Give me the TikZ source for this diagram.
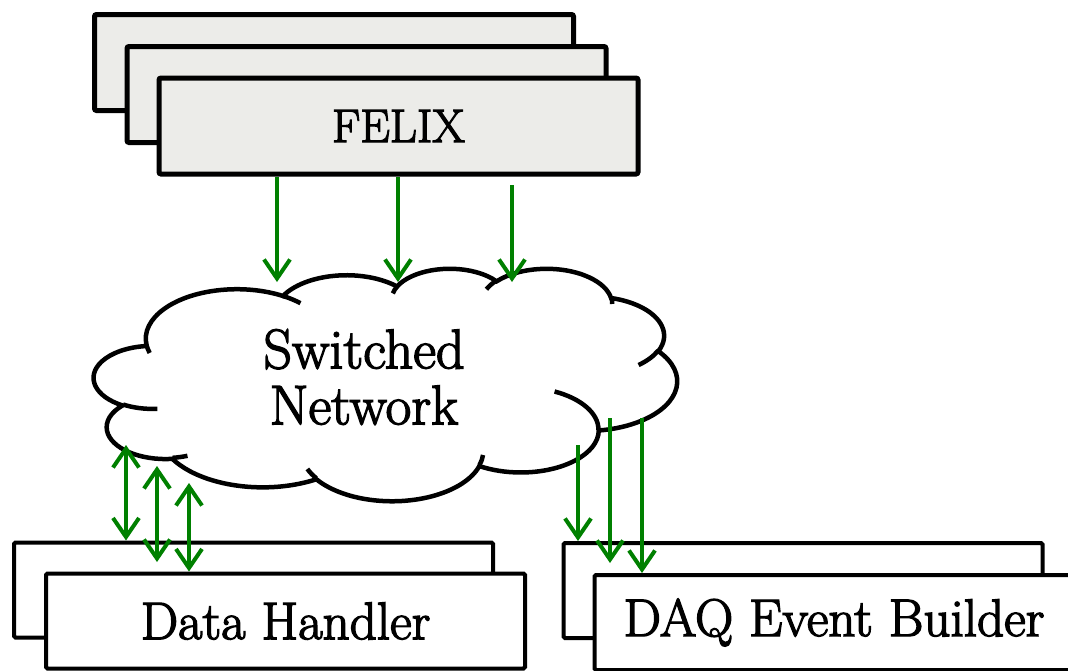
\documentclass[tikz,border=0pt]{standalone}
\usepackage{fontspec}
\setmainfont{Latin Modern Roman}[FakeBold=2.5]
\usetikzlibrary{arrows.meta}
\definecolor{flowgreen}{rgb}{0,0.5,0}
\definecolor{felixgrey}{RGB}{236,236,233}
\tikzset{
  felixbox/.style={draw, line width=5pt, fill=felixgrey, rounded corners=2pt,
    minimum width=479pt, minimum height=96pt, inner sep=0pt,
    font=\fontsize{47}{56}\selectfont},
  unitbox/.style={draw, line width=4pt, fill=white, rounded corners=1.5pt,
    minimum width=479pt, minimum height=95pt, inner sep=0pt,
    font=\fontsize{53}{60}\selectfont},
  netline/.style={line width=4.5pt},
  nettext/.style={align=center, inner sep=0pt, font=\fontsize{56}{56}\selectfont},
  flow/.style={draw=flowgreen, line width=4pt, -{Straight Barb[length=19pt,width=26pt]}},
  flowboth/.style={flow, {Straight Barb[length=19pt,width=26pt]}-{Straight Barb[length=19pt,width=26pt]}},
}
\begin{document}
\begin{tikzpicture}[x=1pt, y=-1pt]
  \useasboundingbox (0,0) rectangle (1068,670);

  % FELIX stack
  \node[felixbox] (felixC) at (334,62.5) {};
  \node[felixbox] (felixB) at (366.5,94.5) {};
  \node[felixbox] (felix) at (398.5,126) {\raisebox{-4pt}{FELIX}};

  % switched network cloud
  \begin{scope}[shift={(94,268)}, x=1.3495pt, y=-0.538pt]
    \draw[netline, fill=white] (39.00,143.70)
      \foreach \w/\h/\s/\d [evaluate=\s as \ts using {atan2(\w*sin(\s),\h*cos(\s))},
                            evaluate=\d as \te using {atan2(\w*sin(\s+\d),\h*cos(\s+\d))},
                            evaluate=\d as \dt using {mod(\te-\ts+720,360)}] in
        {67.53/91.90/-190.4875/123.7805, 53.33/72.67/-144.1024/89.9452,
         43.65/59.45/-145.8079/99.7230, 48.57/65.95/-130.9861/117.2417,
         53.33/72.73/-78.7089/109.0269, 67.75/92.20/-46.2673/130.2690,
         57.85/78.67/0.6250/114.0333, 67.52/92.15/22.4516/115.1726,
         77.20/105.43/66.2426/75.7110, 43.60/59.18/-274.9421/146.7356,
         43.45/59.45/-246.8285/152.5189}
      { arc[x radius=\w, y radius=\h, start angle=\ts, delta angle=\dt] } -- cycle;
    % inner strokes
    \draw[netline]
      \foreach \px/\py/\w/\h/\s/\d [evaluate=\s as \ts using {atan2(\w*sin(\s),\h*cos(\s))},
                                    evaluate=\d as \te using {atan2(\w*sin(\s+\d),\h*cos(\s+\d))},
                                    evaluate=\d as \dt using {mod(\te-\ts+720,360)}] in
        {46.93/261.77/43.45/59.45/86.7420/26.4295,
         69.28/348.99/43.60/59.18/73.6105/11.4475,
         164.78/390.90/67.52/92.15/137.6242/14.0811,
         288.27/347.51/67.52/92.15/6.4533/15.9984,
         341.29/229.54/57.85/78.67/-70.2924/70.9174,
         417.98/153.54/53.33/72.73/30.3180/27.7515,
         383.24/54.26/48.57/65.95/-13.7443/14.8589,
         290.78/39.52/48.57/65.95/-149.1815/18.1954,
         221.41/47.20/43.65/59.45/-163.4943/17.6864,
         140.00/51.92/67.53/91.90/-66.7070/12.3194,
         41.27/157.89/67.53/91.90/157.6544/11.8582}
      { (\px,\py) arc[x radius=\w, y radius=\h, start angle=\ts, delta angle=\dt] };
  \end{scope}
  \node[nettext] (net) at (364,377) {Switched\\Network};

  % Data Handler and DAQ Event Builder stacks
  \node[unitbox] (dhB) at (253.5,590) {};
  \node[unitbox] (dh) at (285.5,621) {\raisebox{-5pt}{Data Handler}};
  \node[unitbox] (evbB) at (803,590.5) {};
  \node[unitbox] (evb) at (834,622.5) {\raisebox{-5pt}{DAQ Event Builder}};

  % ends of the links
  \coordinate (fin1) at (277,282);
  \coordinate (fin2) at (398,282);
  \coordinate (fin3) at (512,282);
  \coordinate (fout3) at (512,185);
  \coordinate (dh1) at (126,445);
  \coordinate (dh2) at (157,466);
  \coordinate (dh3) at (189,483);
  \coordinate (dh2end) at (157,562);
  \coordinate (ev1) at (578,445);
  \coordinate (ev2) at (610,418);
  \coordinate (ev3) at (642,418);
  \coordinate (ev2end) at (610,563);

  % links
  \draw[flow] (felix.south -| fin1) -- (fin1);
  \draw[flow] (felix.south -| fin2) -- (fin2);
  \draw[flow] (fout3) -- (fin3);
  \draw[flowboth] (dh1) -- (dhB.north -| dh1);
  \draw[flowboth] (dh2) -- (dh2end);
  \draw[flowboth] (dh3) -- (dh.north -| dh3);
  \draw[flow] (ev1) -- (evbB.north -| ev1);
  \draw[flow] (ev2) -- (ev2end);
  \draw[flow] (ev3) -- (evb.north -| ev3);
\end{tikzpicture}
\end{document}
